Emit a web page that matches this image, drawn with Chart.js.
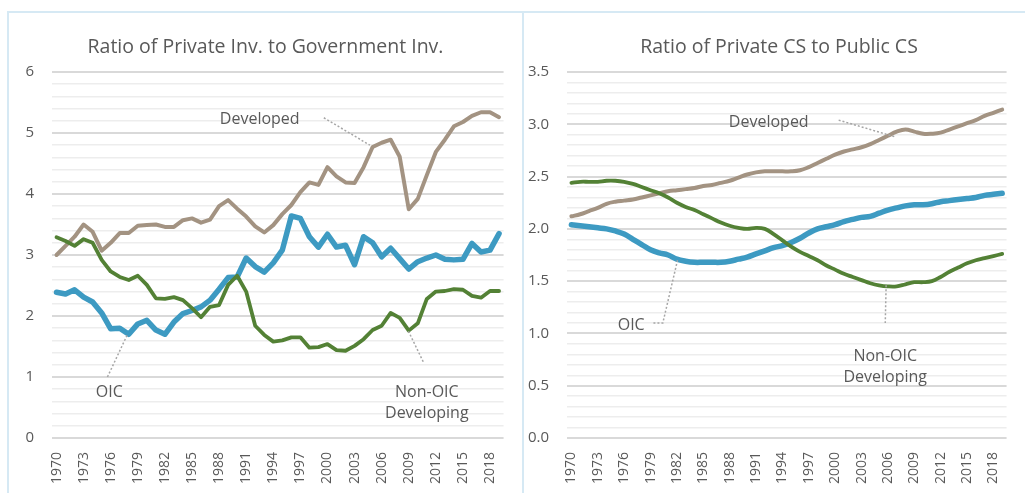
<!DOCTYPE html>
<html>
<head>
<meta charset="utf-8">
<script src="https://cdn.jsdelivr.net/npm/chart.js@4.4.1/dist/chart.umd.min.js"></script>
<style>
  body { margin: 0; background: #fff; width: 1025px; height: 493px; overflow: hidden; position: relative; }
  .box { position: absolute; top: 11px; height: 490px; border-top: 2px solid #D6E9F4; border-left: 2px solid #D6E9F4; }
  #boxL { left: 7px; width: 513px; border-right: 2px solid #D6E9F4; }
  #boxR { left: 522px; width: 510px; border-left: none; }
  canvas { position: absolute; }
</style>
</head>
<body>
<div class="box" id="boxL"></div>
<div class="box" id="boxR"></div>
<canvas id="invChart" width="513" height="480" style="left:9px;top:13px"></canvas>
<canvas id="csChart" width="502" height="480" style="left:523px;top:13px"></canvas>
<script>
// years 1970..2019
const years = [];
for (let y = 1970; y <= 2019; y++) years.push(String(y));

// Ratio of private investment to government investment
const invDeveloped = [3.0, 3.15, 3.3, 3.5, 3.38, 3.07, 3.2, 3.36, 3.36, 3.48,
  3.49, 3.5, 3.46, 3.46, 3.57, 3.6, 3.53, 3.58, 3.8, 3.9,
  3.76, 3.63, 3.47, 3.37, 3.49, 3.67, 3.82, 4.03, 4.19, 4.15,
  4.44, 4.29, 4.19, 4.18, 4.44, 4.77, 4.84, 4.89, 4.61, 3.75,
  3.92, 4.31, 4.69, 4.89, 5.11, 5.18, 5.28, 5.34, 5.34, 5.26];
const invOIC = [2.39, 2.36, 2.43, 2.31, 2.23, 2.05, 1.79, 1.8, 1.7, 1.87,
  1.93, 1.77, 1.7, 1.9, 2.04, 2.09, 2.15, 2.26, 2.44, 2.63,
  2.64, 2.95, 2.81, 2.72, 2.87, 3.08, 3.64, 3.6, 3.3, 3.13,
  3.34, 3.13, 3.16, 2.84, 3.3, 3.2, 2.97, 3.11, 2.94, 2.77,
  2.89, 2.95, 3.0, 2.93, 2.92, 2.93, 3.19, 3.05, 3.08, 3.35];
const invNonOIC = [3.29, 3.23, 3.15, 3.26, 3.2, 2.92, 2.73, 2.64, 2.59, 2.66,
  2.51, 2.29, 2.28, 2.31, 2.26, 2.13, 1.98, 2.15, 2.18, 2.51,
  2.66, 2.4, 1.84, 1.69, 1.58, 1.6, 1.65, 1.65, 1.48, 1.49,
  1.54, 1.44, 1.43, 1.51, 1.62, 1.77, 1.84, 2.05, 1.97, 1.76,
  1.88, 2.28, 2.4, 2.41, 2.44, 2.43, 2.33, 2.3, 2.41, 2.41];

// Ratio of private capital stock to public capital stock
const csDeveloped = [2.12, 2.14, 2.17, 2.2, 2.24, 2.26, 2.27, 2.28, 2.3, 2.32,
  2.34, 2.36, 2.37, 2.38, 2.39, 2.41, 2.42, 2.44, 2.46, 2.49,
  2.52, 2.54, 2.55, 2.55, 2.55, 2.55, 2.56, 2.59, 2.63, 2.67,
  2.71, 2.74, 2.76, 2.78, 2.81, 2.85, 2.89, 2.93, 2.95, 2.93,
  2.91, 2.91, 2.92, 2.95, 2.98, 3.01, 3.04, 3.08, 3.11, 3.14];
const csOIC = [2.04, 2.03, 2.02, 2.01, 2.0, 1.98, 1.95, 1.9, 1.85, 1.8,
  1.77, 1.75, 1.71, 1.69, 1.68, 1.68, 1.68, 1.68, 1.69, 1.71,
  1.73, 1.76, 1.79, 1.82, 1.84, 1.87, 1.91, 1.96, 2.0, 2.02,
  2.04, 2.07, 2.09, 2.11, 2.12, 2.15, 2.18, 2.2, 2.22, 2.23,
  2.23, 2.24, 2.26, 2.27, 2.28, 2.29, 2.3, 2.32, 2.33, 2.34];
const csNonOIC = [2.44, 2.45, 2.45, 2.45, 2.46, 2.46, 2.45, 2.43, 2.4, 2.37,
  2.34, 2.3, 2.25, 2.21, 2.18, 2.14, 2.1, 2.06, 2.03, 2.01,
  2.0, 2.01, 2.0, 1.95, 1.89, 1.83, 1.78, 1.74, 1.7, 1.65,
  1.61, 1.57, 1.54, 1.51, 1.48, 1.46, 1.45, 1.45, 1.47, 1.49,
  1.49, 1.5, 1.54, 1.59, 1.63, 1.67, 1.7, 1.72, 1.74, 1.76];

const FONT = '"Open Sans", sans-serif';
const TXT = '#595959';
const C_DEV = '#A39382';
const C_OIC = '#3D9AC2';
const C_NON = '#538135';

// title + labels with dotted leader lines, positioned in data units (category index, value)
const leaderPlugin = {
  id: 'leaders',
  afterDatasetsDraw(chart, args, opts) {
    const ctx = chart.ctx, xs = chart.scales.x, ys = chart.scales.y;
    ctx.save();
    ctx.fillStyle = TXT;
    ctx.textAlign = 'center';
    ctx.textBaseline = 'middle';
    ctx.font = '19.5px ' + FONT;
    ctx.fillText(opts.title, opts.titleX, 34);
    (opts.items || []).forEach(it => {
      ctx.strokeStyle = '#A6A6A6';
      ctx.lineWidth = 1.5;
      ctx.setLineDash([2, 2]);
      ctx.beginPath();
      it.line.forEach((p, k) => {
        const px = xs.getPixelForValue(p[0]), py = ys.getPixelForValue(p[1]);
        if (k === 0) ctx.moveTo(px, py); else ctx.lineTo(px, py);
      });
      ctx.stroke();
      ctx.setLineDash([]);
      ctx.font = '16px ' + FONT;
      it.text.forEach((t, k) => {
        ctx.fillText(t, xs.getPixelForValue(it.at[0]), ys.getPixelForValue(it.at[1]) + k * 21);
      });
    });
    ctx.restore();
  }
};

function isMajor(v, step) {
  const r = v / step;
  return Math.abs(r - Math.round(r)) < 1e-6;
}

function makeChart(id, title, dev, oic, non, opts) {
  return new Chart(document.getElementById(id).getContext('2d'), {
    type: 'line',
    data: {
      labels: years,
      datasets: [
        { label: 'Non-OIC Developing', data: non, borderColor: C_NON, borderWidth: 3.8 },
        { label: 'OIC', data: oic, borderColor: C_OIC, borderWidth: 5.5 },
        { label: 'Developed', data: dev, borderColor: C_DEV, borderWidth: 4 }
      ]
    },
    options: {
      responsive: false,
      animation: false,
      elements: {
        point: { radius: 0 },
        line: { tension: opts.tension, borderCapStyle: 'round', borderJoinStyle: 'round' }
      },
      layout: { padding: { left: 0, right: opts.padRight, top: 59, bottom: 0 } },
      plugins: {
        legend: { display: false },
        tooltip: { enabled: false },
        title: { display: false },
        leaders: { title: title, titleX: opts.titleX, items: opts.items }
      },
      scales: {
        x: {
          offset: true,
          grid: { display: false },
          border: { display: false },
          ticks: {
            autoSkip: false,
            minRotation: 90,
            maxRotation: 90,
            padding: 6,
            color: TXT,
            font: { family: FONT, size: 14 },
            callback: (v, i) => (i % 3 === 0 ? years[i] : '')
          },
          afterFit: s => { s.height = 55; }
        },
        y: {
          min: 0,
          max: opts.max,
          border: { display: false },
          grid: {
            drawTicks: false,
            color: c => (isMajor(c.tick.value, opts.major) ? '#D9D9D9' : '#EDEDED'),
            lineWidth: c => (isMajor(c.tick.value, opts.major) ? 2 : 1.5)
          },
          ticks: {
            autoSkip: false,
            stepSize: opts.minor,
            padding: 18,
            color: TXT,
            font: { family: FONT, size: 15 },
            callback: v => (isMajor(v, opts.major) ? v.toFixed(opts.decimals) : '')
          },
          afterFit: s => { s.width = opts.axisWidth; }
        }
      }
    },
    plugins: [leaderPlugin]
  });
}

makeChart('invChart', 'Ratio of Private Inv. to Government Inv.', invDeveloped, invOIC, invNonOIC, {
  tension: 0, max: 6, minor: 0.2, major: 1, decimals: 0,
  padRight: 14, axisWidth: 43, titleX: 256.5,
  items: [
    { text: ['Developed'], at: [22.5, 5.23], line: [[29.6, 5.25], [34.7, 4.8]] },
    { text: ['OIC'], at: [5.85, 0.74], line: [[5.64, 1.0], [7.83, 1.69]] },
    { text: ['Non-OIC', 'Developing'], at: [41.0, 0.75], line: [[40.6, 1.25], [38.97, 1.75]] }
  ]
});

makeChart('csChart', 'Ratio of Private CS to Public CS', csDeveloped, csOIC, csNonOIC, {
  tension: 0.4, max: 3.5, minor: 0.1, major: 0.5, decimals: 1,
  padRight: 2, axisWidth: 44, titleX: 256,
  items: [
    { text: ['Developed'], at: [22.45, 3.02], line: [[30.4, 3.04], [36.8, 2.88]] },
    { text: ['OIC'], at: [6.8, 1.08], line: [[9.33, 1.1], [10.4, 1.1], [12.07, 1.7]] },
    { text: ['Non-OIC', 'Developing'], at: [35.7, 0.78], line: [[35.8, 1.46], [35.7, 1.1]] }
  ]
});
</script>
</body>
</html>
